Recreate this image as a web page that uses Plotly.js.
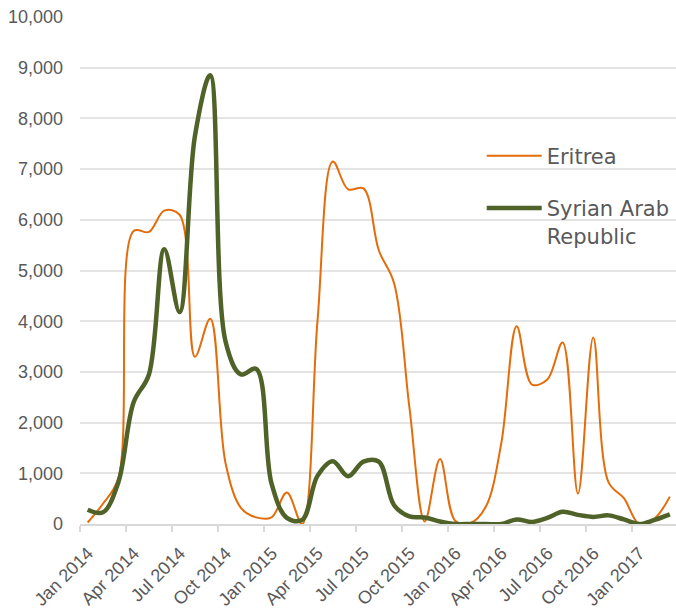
<!DOCTYPE html>
<html>
<head>
<meta charset="utf-8">
<script src="https://cdn.plot.ly/plotly-3.0.1.min.js"></script>
<style>html,body{margin:0;padding:0;background:#fff;overflow:hidden;}</style>
</head>
<body>
<div id="chart" style="width:676px;height:616px;"></div>
<script>
// Monthly values, Jan 2014 .. Mar 2017
const months = ['Jan 2014','Feb 2014','Mar 2014','Apr 2014','May 2014','Jun 2014','Jul 2014','Aug 2014','Sep 2014','Oct 2014','Nov 2014','Dec 2014',
  'Jan 2015','Feb 2015','Mar 2015','Apr 2015','May 2015','Jun 2015','Jul 2015','Aug 2015','Sep 2015','Oct 2015','Nov 2015','Dec 2015',
  'Jan 2016','Feb 2016','Mar 2016','Apr 2016','May 2016','Jun 2016','Jul 2016','Aug 2016','Sep 2016','Oct 2016','Nov 2016','Dec 2016',
  'Jan 2017','Feb 2017','Mar 2017'];
const eritrea = [30, 400, 900, 5780, 5760, 6180, 6100, 3300, 4050, 1200, 320, 130,
  130, 620, 0, 4000, 7150, 6600, 6620, 5400, 4750, 2300, 50, 1280,
  60, 20, 350, 1600, 3900, 2750, 2850, 3580, 600, 3680, 820, 510,
  0, 110, 540];
const syria = [280, 230, 820, 2400, 2950, 5420, 4180, 7650, 8850, 3600, 2950, 3060,
  800, 120, 80, 950, 1240, 940, 1230, 1230, 370, 150, 130, 50,
  0, 0, 0, 0, 90, 40, 120, 240, 180, 140, 170, 90,
  0, 80, 190];
const tickLabels = ['Jan 2014','Apr 2014','Jul 2014','Oct 2014','Jan 2015','Apr 2015','Jul 2015','Oct 2015','Jan 2016','Apr 2016','Jul 2016','Oct 2016','Jan 2017'];

const idx = months.map((m, i) => i);
const tickPos = tickLabels.map(t => months.indexOf(t) - 0.5);

const traces = [
  {x: idx, y: eritrea, text: months, name: 'Eritrea', type: 'scatter', mode: 'lines',
   line: {color: '#E46C0A', width: 2, shape: 'spline', smoothing: 1}, legendgroup: 'a',
   hovertemplate: '%{text}: %{y:,}<extra>Eritrea</extra>'},
  {x: idx, y: syria, text: months, name: 'Syrian Arab<br>Republic', type: 'scatter', mode: 'lines',
   line: {color: '#4F6228', width: 4.5, shape: 'spline', smoothing: 1}, legendgroup: 'b',
   hovertemplate: '%{text}: %{y:,}<extra>Syrian Arab Republic</extra>'}
];

const tickFont = {family: 'Liberation Sans, Arial, sans-serif', size: 18, color: '#595959'};

const layout = {
  width: 676, height: 616,
  margin: {l: 80, r: 0, t: 17, b: 92},
  paper_bgcolor: '#ffffff', plot_bgcolor: '#ffffff',
  font: {family: 'Liberation Sans, Arial, sans-serif', size: 18, color: '#595959'},
  xaxis: {
    range: [-0.5, 38.4], tickmode: 'array', tickvals: tickPos, ticktext: tickLabels,
    tickangle: -45, ticks: 'outside', ticklen: 6, tickwidth: 1.5, tickcolor: '#d9d9d9',
    ticklabelshift: 8, ticklabelstandoff: 4,
    showline: true, linecolor: '#d9d9d9', linewidth: 1.5, showgrid: false, zeroline: false,
    tickfont: tickFont, fixedrange: true
  },
  yaxis: {
    range: [0, 10000], dtick: 1000, tickformat: ',d', showgrid: true, gridcolor: '#e4e4e4', gridwidth: 1.5,
    showline: false, zeroline: false, ticks: '', ticklabelstandoff: 16,
    tickfont: tickFont, fixedrange: true
  },
  showlegend: true,
  legend: {
    x: 0.674, y: 0.766, xanchor: 'left', yanchor: 'top',
    bgcolor: 'rgba(0,0,0,0)', borderwidth: 0,
    font: {family: 'DejaVu Sans, sans-serif', size: 21, color: '#595959'},
    itemwidth: 55, valign: 'top', traceorder: 'grouped', tracegroupgap: 22
  }
};

Plotly.newPlot('chart', traces, layout, {displayModeBar: false});
</script>
</body>
</html>
